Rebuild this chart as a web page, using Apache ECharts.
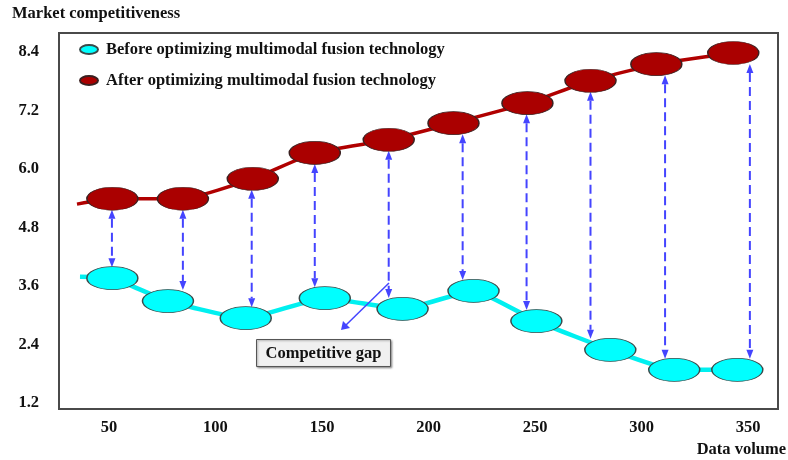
<!DOCTYPE html>
<html>
<head>
<meta charset="utf-8">
<title>Market competitiveness vs data volume</title>
<script src="https://cdn.jsdelivr.net/npm/echarts@6/dist/echarts.min.js"></script>
<style>
  html, body { margin: 0; padding: 0; background: #ffffff; }
  #chart { width: 788px; height: 460px; }
</style>
</head>
<body>
<div id="chart"></div>
<script>
// Tick labels
const xTicks = [50, 100, 150, 200, 250, 300, 350];
const yTicks = [1.2, 2.4, 3.6, 4.8, 6.0, 7.2, 8.4];

// After optimizing: first entry is the lead-in of the curve (no marker)
const afterX = [35.0, 51.6, 84.7, 117.5, 146.6, 181.3, 211.7, 246.4, 276.0, 306.9, 343.0];
const afterY = [5.28, 5.39, 5.39, 5.80, 6.33, 6.60, 6.94, 7.35, 7.81, 8.15, 8.38];

// Before optimizing: first entry is the lead-in of the curve (no marker)
const beforeX = [36.4, 51.6, 77.7, 114.2, 151.3, 187.8, 221.1, 250.6, 285.3, 315.3, 344.9];
const beforeY = [3.79, 3.76, 3.29, 2.94, 3.35, 3.13, 3.50, 2.88, 2.29, 1.88, 1.88];

// Positions of the gap arrows along the data-volume axis
const gapX = [51.4, 84.7, 117.0, 146.6, 181.3, 216.0, 246.0, 276.0, 311.0, 350.8];

const seriesNames = [
  'Before optimizing multimodal fusion technology',
  'After optimizing multimodal fusion technology'
];

const FONT = '"Liberation Serif", "Times New Roman", serif';
const FS = 16.5;
const ELLIPSE = 'path://M0,50A100,50 0 1,0 200,50A100,50 0 1,0 0,50Z';
const ARROW_BLUE = '#4444ff';

function buildLine(xs, ys) {
  return xs.map((x, i) => i === 0
    ? { value: [x, ys[i]], symbol: 'none' }
    : { value: [x, ys[i]] });
}

// each gap item: [x, upper value, lower value]
const gapData = gapX.map((x, i) => [x, afterY[i + 1], beforeY[i + 1]]);

function renderGap(params, api) {
  const top = api.coord([api.value(0), api.value(1)]);
  const bot = api.coord([api.value(0), api.value(2)]);
  const x = top[0];
  const y1 = top[1] + 11;
  const y2 = bot[1] - 11;
  const head = 9, half = 3.5;
  return {
    type: 'group',
    children: [
      {
        type: 'line',
        shape: { x1: x, y1: y1 + head, x2: x, y2: y2 - head },
        style: { stroke: ARROW_BLUE, lineWidth: 2, lineDash: [9, 5] }
      },
      {
        type: 'polygon',
        shape: { points: [[x, y1], [x - half, y1 + head], [x + half, y1 + head]] },
        style: { fill: ARROW_BLUE }
      },
      {
        type: 'polygon',
        shape: { points: [[x, y2], [x - half, y2 - head], [x + half, y2 - head]] },
        style: { fill: ARROW_BLUE }
      }
    ]
  };
}

const chart = echarts.init(document.getElementById('chart'), null, { renderer: 'canvas' });

const option = {
  backgroundColor: '#ffffff',
  animation: false,
  textStyle: { fontFamily: FONT },
  grid: {
    left: 59, right: 10, top: 33, bottom: 51,
    show: true, borderColor: '#4a4a4a', borderWidth: 2, backgroundColor: '#ffffff'
  },
  xAxis: {
    type: 'value',
    min: 26.56, max: 364.0,
    axisLine: { show: false },
    axisTick: { show: false },
    splitLine: { show: false },
    axisLabel: {
      customValues: xTicks,
      margin: 10,
      color: '#111', fontFamily: FONT, fontWeight: 'bold', fontSize: FS
    }
  },
  yAxis: {
    type: 'value',
    min: 1.077, max: 8.79,
    axisLine: { show: false },
    axisTick: { show: false },
    splitLine: { show: false },
    axisLabel: {
      customValues: yTicks,
      margin: 20,
      formatter: v => Number(v).toFixed(1),
      color: '#111', fontFamily: FONT, fontWeight: 'bold', fontSize: FS
    }
  },
  legend: {
    orient: 'vertical',
    left: 79, top: 39,
    padding: 0,
    itemGap: 10,
    itemWidth: 20, itemHeight: 9,
    textStyle: { fontFamily: FONT, fontWeight: 'bold', fontSize: FS, color: '#111', lineHeight: 19, padding: [2, 0, 0, 2] },
    data: [
      { name: seriesNames[0], icon: ELLIPSE },
      { name: seriesNames[1], icon: ELLIPSE }
    ]
  },
  series: [
    {
      name: seriesNames[0],
      type: 'line',
      data: buildLine(beforeX, beforeY),
      smooth: 0.15,
      symbol: ELLIPSE,
      symbolSize: [51, 23],
      symbolKeepAspect: false,
      lineStyle: { color: '#00f0f0', width: 4.5 },
      itemStyle: { color: '#00ffff', borderColor: '#3a4a4a', borderWidth: 1 },
      z: 3
    },
    {
      name: seriesNames[1],
      type: 'line',
      data: buildLine(afterX, afterY),
      smooth: 0.15,
      symbol: ELLIPSE,
      symbolSize: [51, 23],
      symbolKeepAspect: false,
      lineStyle: { color: '#b00000', width: 3.5 },
      itemStyle: { color: '#aa0000', borderColor: '#3a2020', borderWidth: 1 },
      z: 3
    },
    {
      name: 'gap',
      type: 'custom',
      renderItem: renderGap,
      data: gapData,
      silent: true,
      z: 2
    }
  ],
  graphic: [
    {
      type: 'text', left: 12, top: 5,
      style: { text: 'Market competitiveness', font: 'bold ' + FS + 'px ' + FONT, fill: '#111' }
    },
    {
      type: 'text', right: 2, top: 441,
      style: { text: 'Data volume', font: 'bold ' + FS + 'px ' + FONT, fill: '#111' }
    },
    {
      type: 'line',
      shape: { x1: 389, y1: 283, x2: 345, y2: 326 },
      style: { stroke: ARROW_BLUE, lineWidth: 1.5 },
      z: 10
    },
    {
      type: 'polygon',
      shape: { points: [[341, 330], [343, 321], [350, 328]] },
      style: { fill: ARROW_BLUE },
      z: 10
    },
    {
      type: 'group', left: 256, top: 339, z: 10,
      children: [
        {
          type: 'rect',
          shape: { x: 0, y: 0, width: 134, height: 27 },
          style: {
            fill: '#f0f0f0', stroke: '#555555', lineWidth: 1,
            shadowBlur: 2, shadowOffsetX: 1, shadowOffsetY: 1, shadowColor: 'rgba(0,0,0,0.35)'
          }
        },
        {
          type: 'text',
          x: 67, y: 14,
          style: {
            text: 'Competitive gap', font: 'bold ' + FS + 'px ' + FONT, fill: '#111',
            align: 'center', verticalAlign: 'middle'
          }
        }
      ]
    }
  ]
};

chart.setOption(option);
</script>
</body>
</html>
